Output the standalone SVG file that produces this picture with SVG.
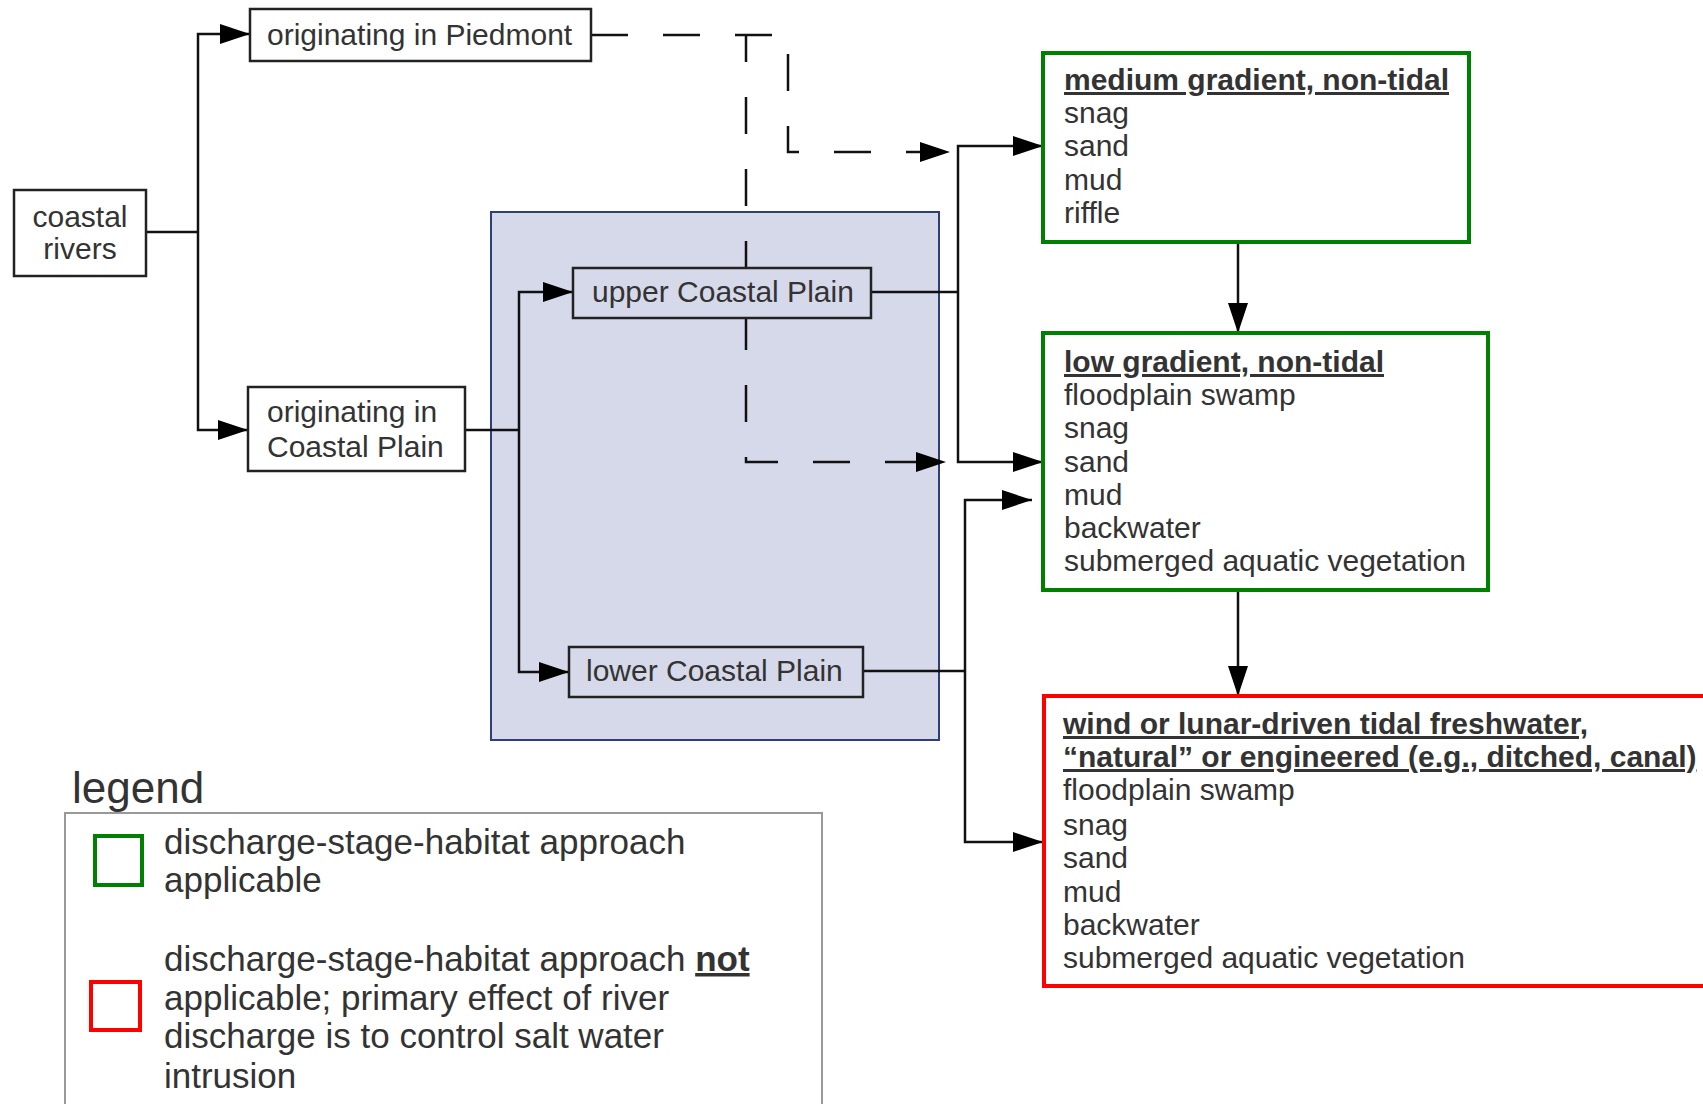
<svg xmlns="http://www.w3.org/2000/svg" width="1703" height="1104" viewBox="0 0 1703 1104">
<defs>
<style>
text{font-family:"Liberation Sans",Arial,sans-serif;font-size:30px;fill:#333}
.box{fill:#fff;stroke:#222;stroke-width:2.5}
.inbox{fill:#d6d9ea;stroke:#222;stroke-width:2.5}
.green{fill:#fff;stroke:#008000;stroke-width:4}
.red{fill:#fff;stroke:#ff0000;stroke-width:4}
.ln{fill:none;stroke:#111;stroke-width:2.5}
.arr{marker-end:url(#ah)}
.dash{fill:none;stroke:#111;stroke-width:2.5;stroke-dasharray:37 35}
.ttl{font-weight:bold;text-decoration:underline}
.leg{font-size:35px}
</style>
<marker id="ah" viewBox="0 0 30 20" refX="30" refY="10" markerWidth="30" markerHeight="20" markerUnits="userSpaceOnUse" orient="auto">
<path d="M0,0 L30,10 L0,20 z" fill="#000"/>
</marker>
</defs>
<rect width="1703" height="1104" fill="#fff"/>

<g id="panel">
<rect x="491" y="212" width="448" height="528" fill="#d6d9ea" stroke="#2f3d7a" stroke-width="2"/>
</g>

<g id="connectors">
<path class="ln" d="M146,232 H198"/>
<path class="ln arr" d="M198,232 V34 H250"/>
<path class="ln arr" d="M198,232 V430 H248"/>
<path class="ln" d="M465,430 H519"/>
<path class="ln arr" d="M519,430 V292 H573"/>
<path class="ln arr" d="M519,430 V672 H569"/>
<path class="ln" d="M871,292 H958"/>
<path class="ln arr" d="M958,292 V146 H1043"/>
<path class="ln arr" d="M958,292 V462 H1043"/>
<path class="ln" d="M863,671 H965"/>
<path class="ln arr" d="M965,671 V500 H1032"/>
<path class="ln arr" d="M965,671 V842 H1043"/>
<path class="ln arr" d="M1238,242 V333"/>
<path class="ln arr" d="M1238,590 V696"/>
<path class="dash arr" d="M591,35 H788 V152 H950"/>
<path class="dash arr" style="stroke-dashoffset:10" d="M746,35 V462 H946"/>
</g>

<g id="coastal-rivers">
<rect class="box" x="14" y="190" width="132" height="86"/>
<text x="80" y="227" text-anchor="middle">coastal</text>
<text x="80" y="259" text-anchor="middle">rivers</text>
</g>

<g id="piedmont">
<rect class="box" x="250" y="9" width="341" height="52"/>
<text x="267" y="45">originating in Piedmont</text>
</g>

<g id="coastal-plain">
<rect class="box" x="248" y="387" width="217" height="84"/>
<text x="267" y="422">originating in</text>
<text x="267" y="457">Coastal Plain</text>
</g>

<g id="upper-cp">
<rect class="inbox" x="573" y="268" width="298" height="50"/>
<text x="592" y="302">upper Coastal Plain</text>
</g>

<g id="lower-cp">
<rect class="inbox" x="569" y="647" width="294" height="50"/>
<text x="586" y="681">lower Coastal Plain</text>
</g>

<g id="medium-gradient">
<rect class="green" x="1043" y="53" width="426" height="189"/>
<text class="ttl" x="1064" y="90">medium gradient, non-tidal</text>
<text x="1064" y="123">snag</text>
<text x="1064" y="156">sand</text>
<text x="1064" y="190">mud</text>
<text x="1064" y="223">riffle</text>
</g>

<g id="low-gradient">
<rect class="green" x="1043" y="333" width="445" height="257"/>
<text class="ttl" x="1064" y="372">low gradient, non-tidal</text>
<text x="1064" y="405">floodplain swamp</text>
<text x="1064" y="438">snag</text>
<text x="1064" y="472">sand</text>
<text x="1064" y="505">mud</text>
<text x="1064" y="538">backwater</text>
<text x="1064" y="571">submerged aquatic vegetation</text>
</g>

<g id="tidal">
<rect class="red" x="1044" y="696" width="700" height="290"/>
<text class="ttl" x="1063" y="734">wind or lunar-driven tidal freshwater,</text>
<text class="ttl" x="1063" y="767">“natural” or engineered (e.g., ditched, canal)</text>
<text x="1063" y="800">floodplain swamp</text>
<text x="1063" y="835">snag</text>
<text x="1063" y="868">sand</text>
<text x="1063" y="902">mud</text>
<text x="1063" y="935">backwater</text>
<text x="1063" y="968">submerged aquatic vegetation</text>
</g>

<g id="legend">
<text x="72" y="803" style="font-size:44px">legend</text>
<rect x="65" y="813" width="757" height="400" fill="none" stroke="#999" stroke-width="2"/>
<rect class="green" x="95" y="836" width="47" height="49"/>
<rect class="red" x="91" y="982" width="49" height="48"/>
<text class="leg" x="164" y="854">discharge-stage-habitat approach</text>
<text class="leg" x="164" y="892">applicable</text>
<text class="leg" x="164" y="971">discharge-stage-habitat approach <tspan style="font-weight:bold;text-decoration:underline">not</tspan></text>
<text class="leg" x="164" y="1010">applicable; primary effect of river</text>
<text class="leg" x="164" y="1048">discharge is to control salt water</text>
<text class="leg" x="164" y="1088">intrusion</text>
</g>
</svg>
